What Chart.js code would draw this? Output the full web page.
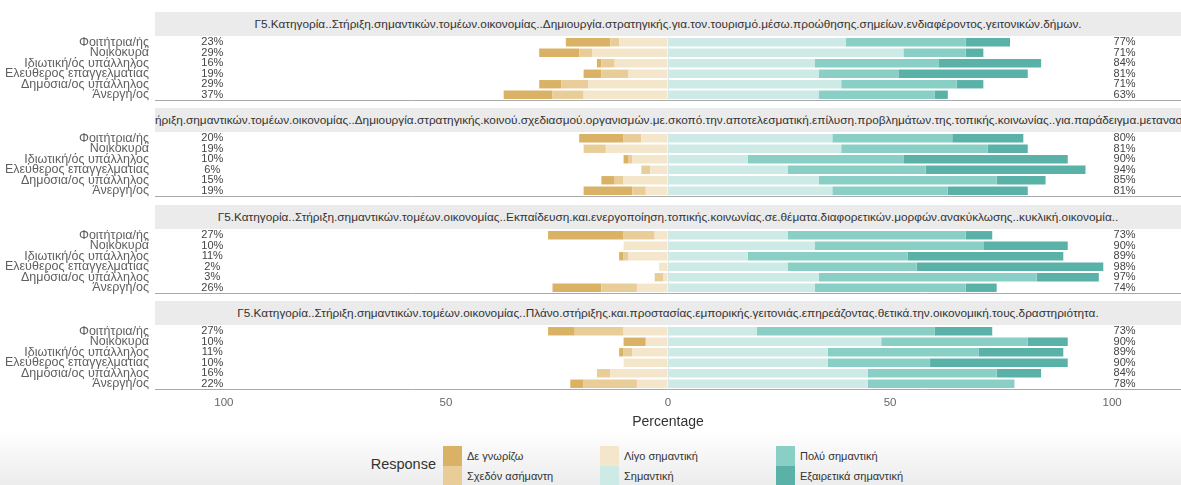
<!DOCTYPE html>
<html lang="el">
<head>
<meta charset="utf-8">
<title>Γ5 Κατηγορία - Likert</title>
<script src="https://cdn.jsdelivr.net/npm/chart.js@4.4.1/dist/chart.umd.min.js"></script>
<style>
    html, body { margin: 0; padding: 0; }
    body {
        width: 1181px;
        height: 485px;
        position: relative;
        overflow: hidden;
        background: linear-gradient(to bottom, #ffffff 0px, #ffffff 430px, #ececec 485px);
        font-family: "Liberation Sans", Arial, sans-serif;
    }
    .panel-canvas { position: absolute; left: 0; }
    .strip {
        position: absolute;
        left: 155px;
        width: 1026px;
        height: 24px;
        background: #ebebeb;
        overflow: hidden;
    }
    .strip span {
        position: absolute;
        top: 0;
        line-height: 24px;
        white-space: nowrap;
        font-size: 11.8px;
        color: #333;
    }
    .legend-title { position: absolute; right: 745px; top: 456px; font-size: 14.5px; color: #333; }
    .legend-key { position: absolute; width: 19px; height: 20px; }
    .legend-label { position: absolute; font-size: 11px; color: #333; line-height: 20px; white-space: nowrap; }
</style>
</head>
<body>
<script>
// row categories, top to bottom
const categories = [
    'Φοιτήτρια/ής',
    'Νοικοκυρά',
    'Ιδιωτική/ός υπάλληλος',
    'Ελεύθερος επαγγελματίας',
    'Δημόσια/ος υπάλληλος',
    'Άνεργη/ος',
];

const panelTitles = [
    'Γ5.Κατηγορία..Στήριξη.σημαντικών.τομέων.οικονομίας..Δημιουργία.στρατηγικής.για.τον.τουρισμό.μέσω.προώθησης.σημείων.ενδιαφέροντος.γειτονικών.δήμων.',
    'Γ5.Κατηγορία..Στήριξη.σημαντικών.τομέων.οικονομίας..Δημιουργία.στρατηγικής.κοινού.σχεδιασμού.οργανισμών.με.σκοπό.την.αποτελεσματική.επίλυση.προβλημάτων.της.τοπικής.κοινωνίας..για.παράδειγμα.μεταναστευτικό..',
    'Γ5.Κατηγορία..Στήριξη.σημαντικών.τομέων.οικονομίας..Εκπαίδευση.και.ενεργοποίηση.τοπικής.κοινωνίας.σε.θέματα.διαφορετικών.μορφών.ανακύκλωσης..κυκλική.οικονομία..',
    'Γ5.Κατηγορία..Στήριξη.σημαντικών.τομέων.οικονομίας..Πλάνο.στήριξης.και.προστασίας.εμπορικής.γειτονιάς.επηρεάζοντας.θετικά.την.οικονομική.τους.δραστηριότητα.',
];
const clippedPrefix = 'Γ5.Κατηγορία..Στ';

const responses = ['Δε γνωρίζω', 'Σχεδόν ασήμαντη', 'Λίγο σημαντική', 'Σημαντική', 'Πολύ σημαντική', 'Εξαιρετικά σημαντική'];
const responseColors = ['#D9B265', '#E8CD98', '#F4E6CB', '#CDEAE6', '#8ACFC6', '#5AB1A7'];

// percentages, one row per panel, one value per category
const dontKnow = [
    [10, 9, 1, 4, 5, 11],
    [10, 0, 1, 0, 3, 11],
    [17, 0, 1, 0, 0, 11],
    [6, 5, 1, 0, 0, 3],
];
const almostUnimportant = [
    [2, 3, 3, 6, 6, 7],
    [4, 5, 1, 2, 2, 3],
    [7, 0, 1, 0, 2, 8],
    [11, 0, 2, 0, 3, 12],
];
const littleImportant = [
    [11, 17, 12, 9, 18, 19],
    [6, 14, 8, 4, 10, 5],
    [3, 10, 9, 2, 1, 7],
    [10, 5, 8, 10, 13, 7],
];
const important = [
    [40, 53, 33, 34, 39, 34],
    [37, 39, 18, 27, 34, 37],
    [27, 33, 18, 27, 34, 33],
    [20, 48, 36, 36, 45, 45],
];
const veryImportant = [
    [27, 14, 28, 18, 26, 26],
    [27, 33, 35, 31, 40, 26],
    [40, 38, 36, 29, 49, 34],
    [40, 33, 34, 23, 29, 33],
];
const extremelyImportant = [
    [10, 4, 23, 29, 6, 3],
    [16, 9, 37, 36, 11, 18],
    [6, 19, 35, 42, 14, 7],
    [13, 9, 19, 31, 10, 0],
];

const xTicks = [-100, -50, 0, 50, 100];

const responseValues = [dontKnow, almostUnimportant, littleImportant, important, veryImportant, extremelyImportant];
const stackOrder = [2, 1, 0, 3, 4, 5];   // negatives stack outward from the centre
const panelTops = [37, 133, 230, 326];
const PLOT_HEIGHT = 63;
const LABEL_FONT = '"Liberation Sans", Arial, sans-serif';

function sideTotal(panelIndex, row, levels) {
    return levels.reduce((sum, level) => sum + responseValues[level][panelIndex][row], 0);
}

const percentLabels = {
    id: 'percentLabels',
    afterDatasetsDraw(chart, args, opts) {
        const { ctx, scales: { x, y } } = chart;
        ctx.save();
        ctx.font = `11px ${LABEL_FONT}`;
        ctx.fillStyle = '#444';
        ctx.textAlign = 'center';
        ctx.textBaseline = 'middle';
        categories.forEach((_, row) => {
            const yPos = y.getPixelForValue(row);
            const low = Math.round(sideTotal(opts.panel, row, [0, 1, 2]));
            const high = Math.round(sideTotal(opts.panel, row, [3, 4, 5]));
            ctx.fillText(`${low}%`, x.getPixelForValue(-102.6), yPos);
            ctx.fillText(`${high}%`, x.getPixelForValue(102.8), yPos);
        });
        ctx.restore();
    }
};

function addStrip(panelIndex) {
    const strip = document.createElement('div');
    strip.className = 'strip';
    strip.style.top = (panelTops[panelIndex] - 25) + 'px';
    const span = document.createElement('span');
    span.textContent = panelTitles[panelIndex];
    strip.appendChild(span);
    document.body.appendChild(strip);

    const measure = document.createElement('canvas').getContext('2d');
    measure.font = `11.8px ${LABEL_FONT}`;
    const width = measure.measureText(panelTitles[panelIndex]).width;
    if (width > 1026) {
        span.style.left = (-measure.measureText(clippedPrefix).width) + 'px';
    } else {
        span.style.left = ((1026 - width) / 2) + 'px';
    }
}

function addPanel(panelIndex) {
    const isLast = panelIndex === panelTitles.length - 1;
    const axisHeight = isLast ? 46 : 2;
    const canvas = document.createElement('canvas');
    canvas.className = 'panel-canvas';
    canvas.width = 1181;
    canvas.height = PLOT_HEIGHT + axisHeight;
    canvas.style.top = panelTops[panelIndex] + 'px';
    document.body.appendChild(canvas);

    const datasets = stackOrder.map((level) => ({
        label: responses[level],
        data: responseValues[level][panelIndex].map((v) => (level < 3 ? -v : v)),
        backgroundColor: responseColors[level],
        borderWidth: 0,
        categoryPercentage: 1,
        barPercentage: 0.8,
    }));

    return new Chart(canvas, {
        type: 'bar',
        data: { labels: categories, datasets },
        plugins: [percentLabels],
        options: {
            indexAxis: 'y',
            responsive: false,
            animation: false,
            devicePixelRatio: 1,
            layout: { padding: 0 },
            plugins: {
                legend: { display: false },
                tooltip: { enabled: false },
                percentLabels: { panel: panelIndex },
            },
            scales: {
                x: {
                    stacked: true,
                    min: -115.5,
                    max: 115.5,
                    afterBuildTicks: (scale) => {
                        scale.ticks = xTicks.map((value) => ({ value }));
                    },
                    afterFit: (scale) => {
                        scale.height = axisHeight;
                        scale.paddingLeft = 0;
                        scale.paddingRight = 0;
                    },
                    grid: {
                        drawTicks: false,
                        color: (ctx) => (ctx.tick && ctx.tick.value === 0 ? '#dce8e8' : 'rgba(0,0,0,0)'),
                    },
                    border: { display: true, color: '#aaaaaa', width: 1 },
                    ticks: {
                        display: isLast,
                        padding: 7,
                        color: '#666',
                        font: { family: LABEL_FONT, size: 11.5 },
                        callback: (value) => String(Math.abs(value)),
                    },
                    title: {
                        display: isLast,
                        text: 'Percentage',
                        color: '#333',
                        font: { family: LABEL_FONT, size: 14 },
                        padding: { top: 0, bottom: 4 },
                    },
                },
                y: {
                    stacked: true,
                    afterFit: (scale) => {
                        scale.width = 155;
                        scale.paddingTop = 0;
                        scale.paddingBottom = 0;
                    },
                    grid: { display: false, drawTicks: false },
                    border: { display: false },
                    ticks: {
                        autoSkip: false,
                        padding: 6,
                        color: '#5f5f5f',
                        font: { family: LABEL_FONT, size: 12.5 },
                    },
                },
            },
        },
    });
}

function addLegend() {
    const title = document.createElement('div');
    title.className = 'legend-title';
    title.textContent = 'Response';
    document.body.appendChild(title);

    const columnLeft = [443, 600, 776];
    responses.forEach((name, level) => {
        const col = Math.floor(level / 2);
        const row = level % 2;
        const key = document.createElement('div');
        key.className = 'legend-key';
        key.style.left = columnLeft[col] + 'px';
        key.style.top = (446 + row * 20) + 'px';
        key.style.background = responseColors[level];
        document.body.appendChild(key);

        const label = document.createElement('div');
        label.className = 'legend-label';
        label.style.left = (columnLeft[col] + 24) + 'px';
        label.style.top = (446 + row * 20) + 'px';
        label.textContent = name;
        document.body.appendChild(label);
    });
}

panelTitles.forEach((_, i) => {
    addStrip(i);
    addPanel(i);
});
addLegend();
</script>
</body>
</html>
